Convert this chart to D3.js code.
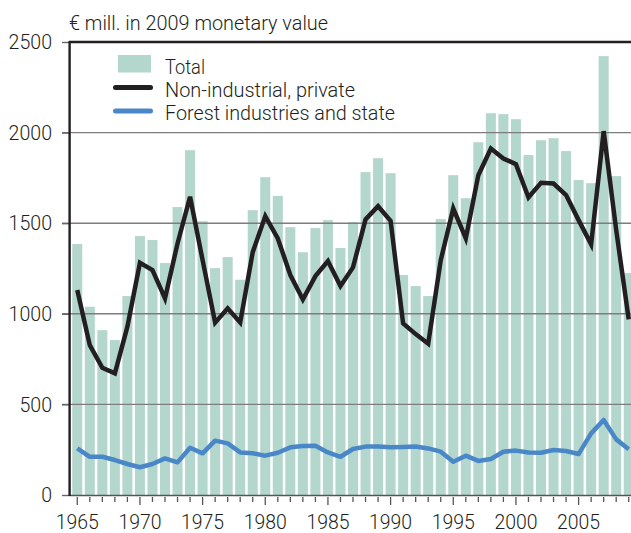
<!DOCTYPE html>
<html><head><meta charset="utf-8">
<script src="https://cdn.jsdelivr.net/npm/d3@7"></script>
<style>
html,body{margin:0;padding:0;background:#fff;}
svg{display:block;}
text{font-family:Roboto,"Liberation Sans Narrow","Liberation Sans",Arial,sans-serif;font-weight:300;fill:#231f20;}
</style></head>
<body>
<svg id="chart" width="631" height="533"></svg>
<script>
const years = d3.range(1965, 2010);
const total = [1385,1039,910,855,1098,1429,1407,1280,1589,1903,1511,1252,1313,1188,1572,1754,1651,1478,1340,1473,1517,1363,1506,1782,1859,1776,1214,1153,1098,1523,1765,1638,1947,2107,2102,2074,1876,1958,1969,1898,1738,1721,2422,1760,1225];
const nonIndustrial = [1131,827,702,671,929,1282,1241,1085,1388,1646,1296,951,1030,952,1340,1539,1416,1214,1079,1208,1291,1153,1256,1521,1594,1513,947,888,835,1296,1581,1416,1765,1912,1857,1826,1642,1723,1719,1655,1517,1383,2008,1462,969];
const forestState = [257,211,211,193,171,153,171,202,180,261,230,300,285,235,230,217,233,263,270,272,235,211,254,267,267,263,265,268,257,239,184,217,188,199,239,245,235,233,248,243,226,340,414,307,252];
const yTicks = [0,500,1000,1500,2000,2500];
const xLabelYears = [1965,1970,1975,1980,1985,1990,1995,2000,2005];
const titleText = "€ mill. in 2009 monetary value";
const legendItems = ["Total","Non-industrial, private","Forest industries and state"];

const svg = d3.select("#chart");
const x = d3.scaleBand().domain(years).range([71, 635]).paddingInner(0.2).paddingOuter(0.1);
const y = d3.scaleLinear().domain([0, 2500]).range([495, 42]);
const cx = d => x(d) + x.bandwidth()/2;

// bars
svg.append("g").selectAll("rect").data(years).join("rect")
  .attr("x", d => x(d)).attr("width", x.bandwidth())
  .attr("y", (d,i) => y(total[i])).attr("height", (d,i) => y(0) - y(total[i]))
  .attr("fill", "#b4d7cd");

// gridlines
svg.append("g").selectAll("line").data([500,1000,1500,2000]).join("line")
  .attr("x1", 62).attr("x2", 631).attr("y1", d => y(d)).attr("y2", d => y(d))
  .attr("stroke", "#7d7d7d").attr("stroke-width", 1.4);

// y axis
const yAxis = svg.append("g").attr("transform", "translate(70,0)")
  .call(d3.axisLeft(y).tickValues(yTicks).tickSize(8).tickPadding(10).tickFormat(d3.format("d")));
yAxis.select(".domain").remove();
yAxis.selectAll(".tick line").attr("stroke", "#666").attr("stroke-width", 1.4);
yAxis.selectAll(".tick text").attr("font-size", 21).attr("fill", "#231f20")
  .style("font-family", "Roboto,'Liberation Sans Narrow','Liberation Sans',sans-serif")
  .style("font-weight", 300)
  .each(function(d){ const s = String(d); d3.select(this).attr("textLength", s.length*10.85).attr("lengthAdjust","spacingAndGlyphs"); });

// x axis
const xAxis = svg.append("g").attr("transform", "translate(0,496)")
  .call(d3.axisBottom(x).tickSize(0).tickFormat(""));
xAxis.select(".domain").remove();
xAxis.selectAll(".tick line").remove();
xAxis.selectAll(".tick").append("line")
  .attr("y1", 1).attr("y2", d => d % 5 === 0 ? 9 : 6)
  .attr("stroke", "#555").attr("stroke-width", 1.3);
svg.append("g").selectAll("text").data(xLabelYears).join("text")
  .attr("x", d => cx(d)).attr("y", 528.5).attr("text-anchor", "middle")
  .attr("font-size", 21).attr("textLength", 43).attr("lengthAdjust", "spacingAndGlyphs")
  .text(d => d);

// baseline, left axis line, top frame
svg.append("line").attr("x1", 70).attr("x2", 631).attr("y1", y(0)+0.5).attr("y2", y(0)+0.5)
  .attr("stroke", "#555").attr("stroke-width", 1.3);
svg.append("line").attr("x1", 69.6).attr("x2", 69.6).attr("y1", y(2500)-1).attr("y2", y(0)+1)
  .attr("stroke", "#231f20").attr("stroke-width", 2.4);
svg.append("line").attr("x1", 69).attr("x2", 631).attr("y1", y(2500)).attr("y2", y(2500))
  .attr("stroke", "#231f20").attr("stroke-width", 2.4);

// lines
const line = arr => d3.line().x((d,i) => cx(years[i])).y(d => y(d))(arr);
svg.append("path").attr("d", line(forestState)).attr("fill", "none")
  .attr("stroke", "#4a87c8").attr("stroke-width", 4.5).attr("stroke-linejoin", "round");
svg.append("path").attr("d", line(nonIndustrial)).attr("fill", "none")
  .attr("stroke", "#231f20").attr("stroke-width", 4.5).attr("stroke-linejoin", "miter");

// title
svg.append("text").attr("x", 69).attr("y", 30).attr("font-size", 21)
  .attr("textLength", 259).attr("lengthAdjust", "spacingAndGlyphs").text(titleText);

// legend
const lg = svg.append("g");
lg.append("rect").attr("x", 118).attr("y", 55).attr("width", 33).attr("height", 17.5).attr("fill", "#b4d7cd");
lg.append("line").attr("x1", 115.5).attr("x2", 150.5).attr("y1", 87.5).attr("y2", 87.5)
  .attr("stroke", "#231f20").attr("stroke-width", 5).attr("stroke-linecap", "round");
lg.append("line").attr("x1", 115.5).attr("x2", 150.5).attr("y1", 111).attr("y2", 111)
  .attr("stroke", "#4a87c8").attr("stroke-width", 5).attr("stroke-linecap", "round");
const lw = [40, 190, 230];
const lb = [73.5, 96.5, 119.5];
lg.selectAll("text.l").data(legendItems).join("text").attr("class","l")
  .attr("x", 165).attr("y", (d,i) => lb[i]).attr("font-size", 21)
  .attr("textLength", (d,i) => lw[i]).attr("lengthAdjust", "spacingAndGlyphs")
  .text(d => d);
</script>
</body></html>
